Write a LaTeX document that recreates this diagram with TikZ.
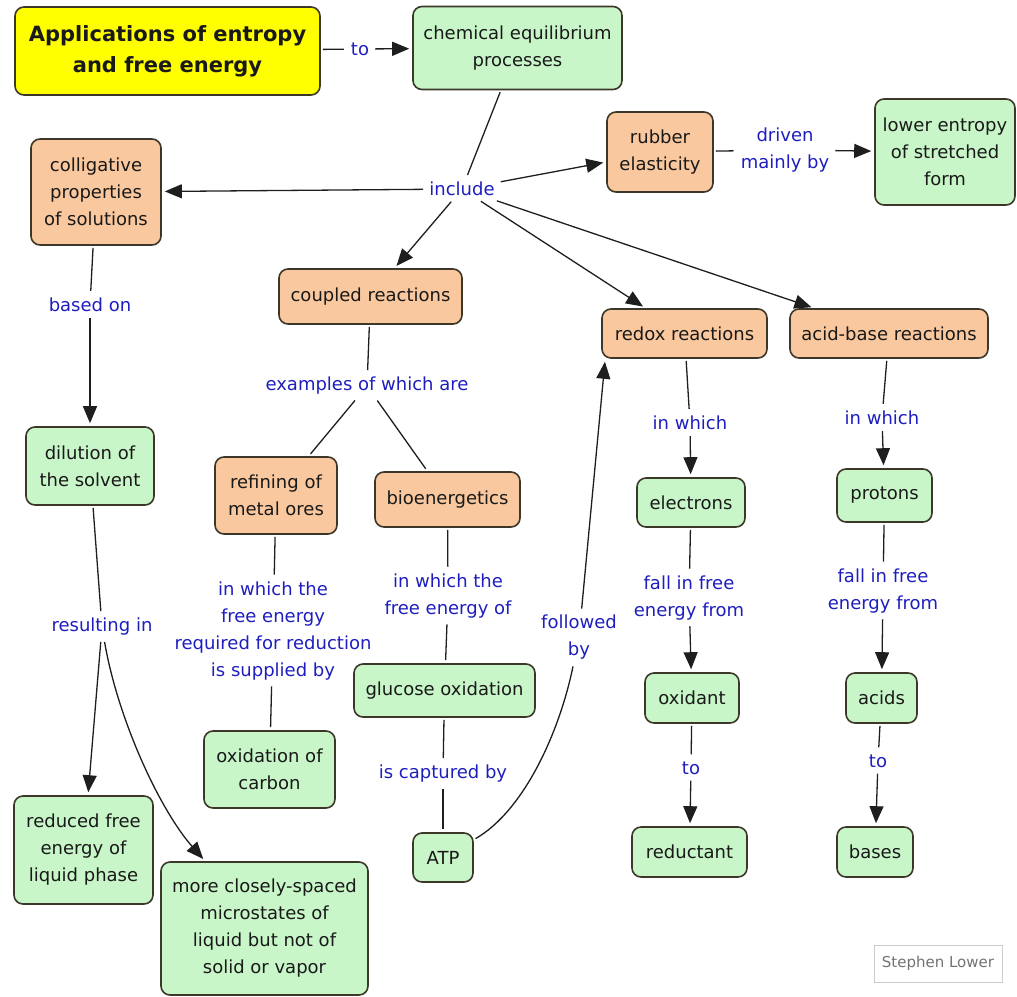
\documentclass[tikz,border=0pt]{standalone}
\usepackage{fontspec}
\setmainfont{DejaVu Sans}
\usetikzlibrary{arrows.meta}
\definecolor{orangefill}{RGB}{250,200,158}
\definecolor{greenfill}{RGB}{200,246,200}
\definecolor{yellowfill}{RGB}{255,255,0}
\definecolor{boxline}{RGB}{60,55,40}
\definecolor{linkblue}{RGB}{30,30,190}
\definecolor{linkline}{RGB}{30,30,30}
\begin{document}
\begin{tikzpicture}[x=1pt,y=-1pt,
    >={Triangle[length=17pt,width=14pt]},
    box/.style={draw=boxline,line width=1.6pt,rounded corners=9pt,align=center,inner sep=2pt,text=black!90,font=\fontsize{18}{27}\selectfont},
    obox/.style={box,fill=orangefill},
    gbox/.style={box,fill=greenfill},
    sz/.style 2 args={minimum width=#1,minimum height=#2},
    lbl/.style={text=linkblue,align=center,inner sep=4pt,font=\fontsize{18}{27}\selectfont},
    link/.style={draw=linkline,line width=1.3pt,shorten <=2pt,shorten >=3pt}]
    \useasboundingbox (0,0) rectangle (1017,996);
    \node[box,fill=yellowfill,sz={305}{88},font=\fontsize{21}{31}\selectfont\bfseries] (title) at (167.5,51) {Applications of entropy\\and free energy};
    \node[gbox,sz={209}{83}] (chem) at (517.5,48) {chemical equilibrium\\processes};
    \node[obox,sz={130}{106}] (coll) at (96,192) {colligative\\properties\\of solutions};
    \node[obox,sz={106}{80}] (rub) at (660,152) {rubber\\elasticity};
    \node[gbox,sz={140}{106}] (low) at (945,152) {lower entropy\\of stretched\\form};
    \node[obox,sz={183}{55}] (cpl) at (370.5,296.5) {coupled reactions};
    \node[obox,sz={165}{49}] (redox) at (684.5,333.5) {redox reactions};
    \node[obox,sz={198}{49}] (acid) at (889,333.5) {acid-base reactions};
    \node[gbox,sz={128}{78}] (dil) at (90,466) {dilution of\\the solvent};
    \node[obox,sz={122}{77}] (ref) at (276,495.5) {refining of\\metal ores};
    \node[obox,sz={145}{55}] (bio) at (447.5,499.5) {bioenergetics};
    \node[gbox,sz={181}{53}] (glu) at (444.5,690.5) {glucose oxidation};
    \node[gbox,sz={131}{77}] (carb) at (269.5,769.5) {oxidation of\\carbon};
    \node[gbox,sz={60}{49}] (atp) at (443,857.5) {ATP};
    \node[gbox,sz={139}{108}] (redfree) at (83.5,850) {reduced free\\energy of\\liquid phase};
    \node[gbox,sz={207}{133}] (micro) at (264.5,928.5) {more closely-spaced\\microstates of\\liquid but not of\\solid or vapor};
    \node[gbox,sz={108}{49}] (elec) at (691,502.5) {electrons};
    \node[gbox,sz={94}{50}] (oxi) at (692,698) {oxidant};
    \node[gbox,sz={115}{50}] (redu) at (689.5,852) {reductant};
    \node[gbox,sz={95}{53}] (prot) at (884.5,495.5) {protons};
    \node[gbox,sz={71}{50}] (acids) at (881.5,698) {acids};
    \node[gbox,sz={76}{50}] (bases) at (875,852) {bases};
    \node[draw=black!20,line width=1pt,fill=white,text=black!55,font=\fontsize{15}{18}\selectfont,sz={128}{37},inner sep=2pt] (credit) at (938,963.5) {Stephen Lower};

    \node[lbl] (to1) at (360,49) {to};
    \node[lbl] (inc) at (462,189) {include};
    \node[lbl] (drv) at (785,150) {driven\\mainly by};
    \node[lbl] (based) at (90,305) {based on};
    \node[lbl] (exa) at (367,386) {examples of which are};
    \node[lbl] (res) at (102,627) {resulting in};
    \node[lbl] (sup) at (273,631) {in which the\\free energy\\required for reduction\\is supplied by};
    \node[lbl] (feo) at (448,596) {in which the\\free energy of};
    \node[lbl] (cap) at (443,774) {is captured by};
    \node[lbl] (fol) at (579,637) {followed\\by};
    \node[lbl] (rwh) at (690,423) {in which};
    \node[lbl] (rfa) at (689,598) {fall in free\\energy from};
    \node[lbl] (rto) at (691,768) {to};
    \node[lbl] (awh) at (882,418) {in which};
    \node[lbl] (afa) at (883,591) {fall in free\\energy from};
    \node[lbl] (ato) at (878,761) {to};

    \draw[link] (title) -- (to1);
    \draw[link,->] (to1) -- (chem);
    \draw[link] (chem) -- (inc);
    \draw[link,->] (inc) -- (coll);
    \draw[link,->] (inc) -- (cpl);
    \draw[link,->] (inc) -- (rub);
    \draw[link,->] (inc) -- (redox);
    \draw[link,->] (inc) -- (acid);
    \draw[link] (rub) -- (drv);
    \draw[link,->] (drv) -- (low);
    \draw[link] (coll) -- (based);
    \draw[link,->] (based) -- (dil);
    \draw[link] (dil) -- (res);
    \draw[link,->] (res) -- (redfree);
    \draw[link,->] (res) .. controls (118,720) and (160,810) .. (micro);
    \draw[link] (cpl) -- (exa);
    \draw[link] (exa) -- (ref);
    \draw[link] (exa) -- (bio);
    \draw[link] (ref) -- (sup);
    \draw[link] (sup) -- (carb);
    \draw[link] (bio) -- (feo);
    \draw[link] (feo) -- (glu);
    \draw[link] (glu) -- (cap);
    \draw[link] (cap) -- (atp);
    \draw[link] (atp) .. controls (525,810) and (560,730) .. (fol);
    \draw[link,->] (fol) -- ([xshift=4pt]redox.south west);
    \draw[link] (redox) -- (rwh);
    \draw[link,->] (rwh) -- (elec);
    \draw[link] (elec) -- (rfa);
    \draw[link,->] (rfa) -- (oxi);
    \draw[link] (oxi) -- (rto);
    \draw[link,->] (rto) -- (redu);
    \draw[link] (acid) -- (awh);
    \draw[link,->] (awh) -- (prot);
    \draw[link] (prot) -- (afa);
    \draw[link,->] (afa) -- (acids);
    \draw[link] (acids) -- (ato);
    \draw[link,->] (ato) -- (bases);
\end{tikzpicture}
\end{document}
